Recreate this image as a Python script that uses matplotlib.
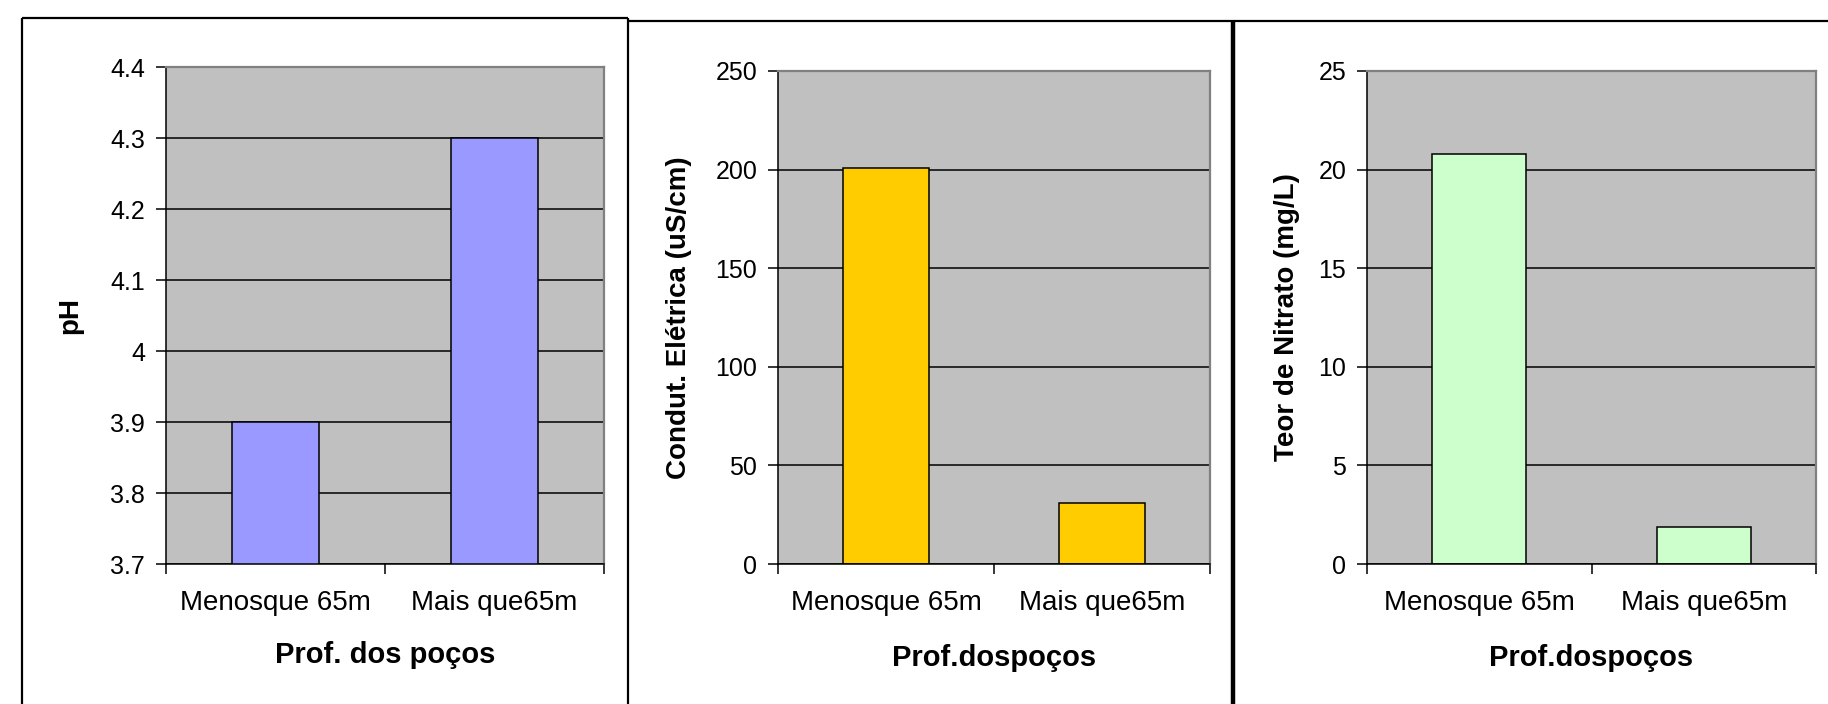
import matplotlib.pyplot as plt
from matplotlib.lines import Line2D
from matplotlib.ticker import FuncFormatter

plt.rcParams['font.family'] = ['Liberation Sans', 'DejaVu Sans']

categories = ["Menosque 65m", "Mais que65m"]
ph = [3.9, 4.3]
condut = [201, 31]
nitrato = [20.8, 1.9]

ph_ticks = [3.7, 3.8, 3.9, 4.0, 4.1, 4.2, 4.3, 4.4]
condut_ticks = [0, 50, 100, 150, 200, 250]
nitrato_ticks = [0, 5, 10, 15, 20, 25]

W, H = 1828, 704
fig = plt.figure(figsize=(W / 100, H / 100), dpi=100)


def box(l, t, r, b):
    return [l / W, 1 - b / H, (r - l) / W, (b - t) / H]


def line(x0, y0, x1, y1, lw):
    fig.add_artist(Line2D([x0 / W, x1 / W], [1 - y0 / H, 1 - y1 / H],
                          transform=fig.transFigure, color='black', lw=lw,
                          solid_capstyle='butt'))


# panel frames
line(22, 18, 628, 18, 1.6)
line(22, 18, 22, 704, 1.6)
line(628, 18, 628, 704, 1.6)
line(628, 21, 1828, 21, 1.6)
line(1233, 21, 1233, 704, 3.2)


def panel(rect, values, color, ticks, ylabel, xlabel, width, ylx, xly):
    ax = fig.add_axes(box(*rect))
    ax.set_facecolor('#C0C0C0')
    ax.set_axisbelow(True)
    ax.bar([0.5, 1.5], values, width=width, color=color, edgecolor='black',
           linewidth=1.1, zorder=2)
    ax.set_xlim(0, 2)
    ax.set_ylim(ticks[0], ticks[-1])
    ax.set_yticks(ticks)
    ax.yaxis.set_major_formatter(FuncFormatter(lambda v, p: f"{v:g}"))
    ax.set_xticks([0, 1, 2])
    ax.set_xticklabels([])
    ax.set_xticks([0.5, 1.5], minor=True)
    ax.set_xticklabels(categories, minor=True, fontsize=20)
    ax.tick_params(axis='x', which='minor', length=0, pad=19)
    ax.tick_params(axis='x', which='major', length=7, width=1.1, direction='out')
    ax.tick_params(axis='y', length=7, width=1.1, pad=8, labelsize=18)
    ax.yaxis.grid(True, color='black', lw=1.1)
    for s in ['left', 'bottom']:
        ax.spines[s].set_color('black')
        ax.spines[s].set_linewidth(1.1)
    for s in ['top', 'right']:
        ax.spines[s].set_color('#808080')
        ax.spines[s].set_linewidth(1.6)
    ax.set_ylabel(ylabel, fontsize=20, fontweight='bold')
    ax.yaxis.set_label_coords(ylx, 0.5)
    ax.set_xlabel(xlabel, fontsize=21, fontweight='bold')
    ax.xaxis.set_label_coords(0.5, xly)
    return ax


panel((166, 67, 604, 564), ph, '#9999FF', ph_ticks, 'pH',
      'Prof. dos poços', 0.40, -0.19, -0.155)
panel((778, 71, 1210, 564), condut, '#FFCC00', condut_ticks,
      'Condut. Elétrica (uS/cm)', 'Prof.dospoços', 0.40, -0.20, -0.162)
panel((1367, 71, 1816, 564), nitrato, '#CCFFCC', nitrato_ticks,
      'Teor de Nitrato (mg/L)', 'Prof.dospoços', 0.42, -0.15, -0.162)

fig.savefig('out.png', dpi=100)
